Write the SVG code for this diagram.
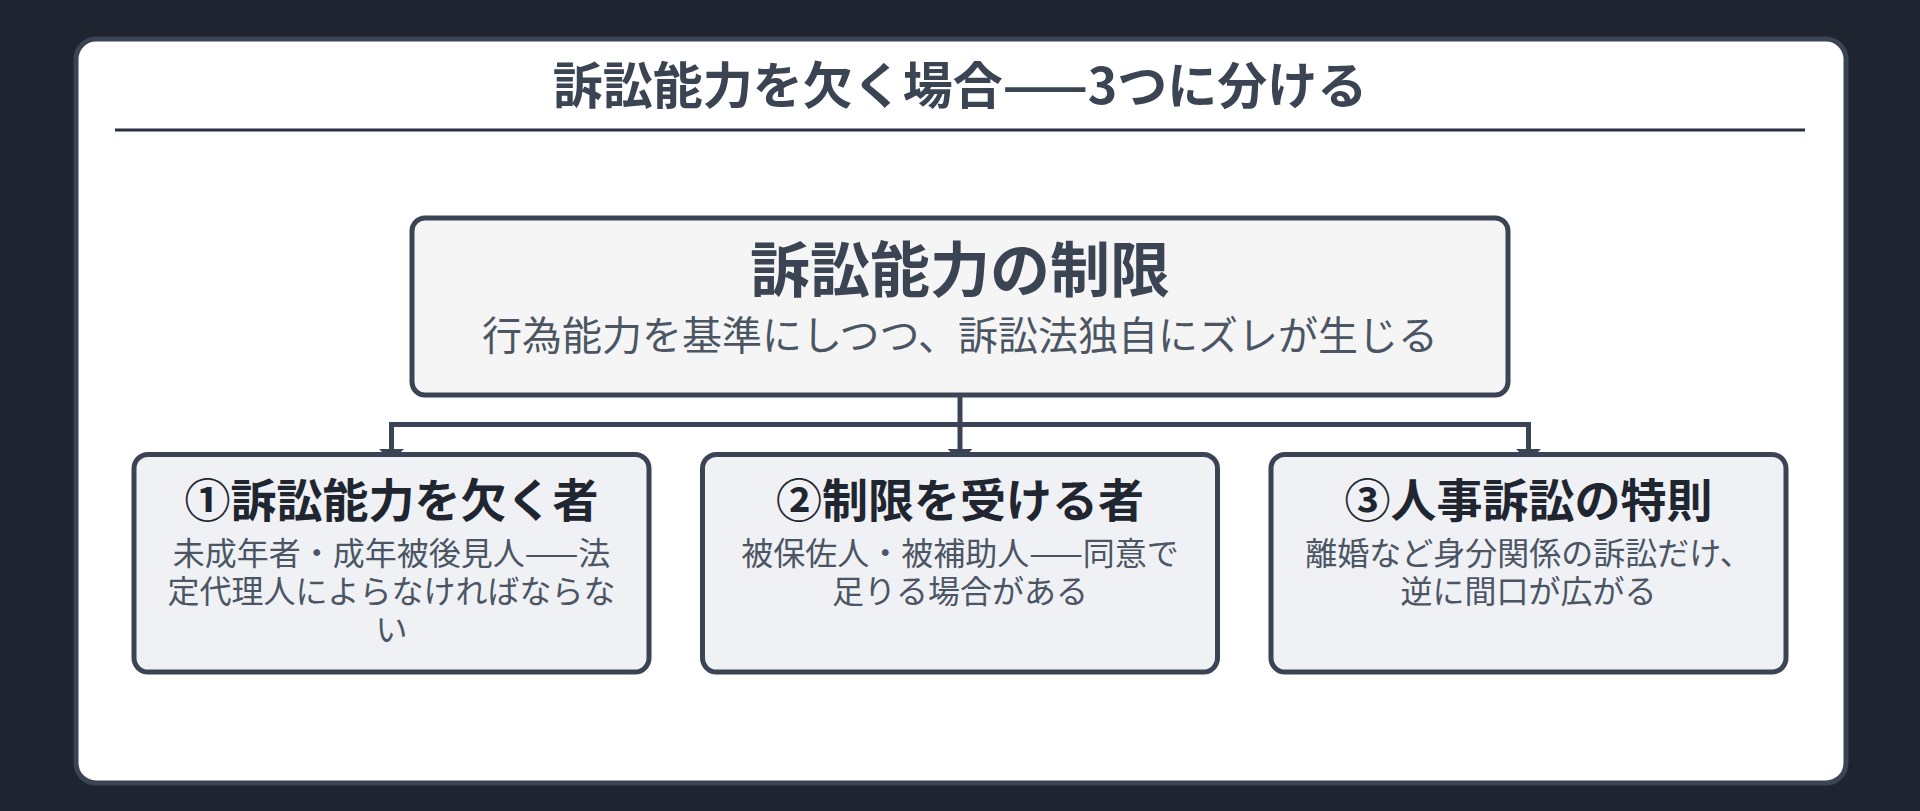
<svg xmlns="http://www.w3.org/2000/svg" width="1920" height="811" viewBox="0 0 1920 811">
  <defs>
    <style>
      .jp { font-family: "Noto Sans CJK JP", "Noto Sans", sans-serif; }
      .main-title { font-size: 50px; font-weight: 700; fill: #3b4453; }
      .top-title { font-size: 60px; font-weight: 700; fill: #3b4453; }
      .top-sub { font-size: 40px; font-weight: 400; fill: #4b5563; }
      .child-title { font-size: 46px; font-weight: 700; fill: #1f2630; }
      .child-desc { font-size: 32px; font-weight: 400; fill: #4b5563; }
      .node-top { fill: #f5f5f5; stroke: #3a4454; stroke-width: 5; }
      .node-child { fill: #eff1f5; stroke: #3a4454; stroke-width: 5; }
      .conn { fill: none; stroke: #3a4454; stroke-width: 5; }
    </style>
    <marker id="arrow" markerUnits="userSpaceOnUse" markerWidth="12" markerHeight="25" viewBox="0 0 12 25" refX="0" refY="12.5" orient="auto-start-reverse">
      <path d="M0,0 L12,12.5 L0,25 z" fill="#3a4454"/>
    </marker>
  </defs>

  <rect x="0" y="0" width="1920" height="811" fill="#1e2530"/>

  <g id="card">
    <rect x="76" y="39" width="1770" height="744" rx="20" ry="20" fill="#ffffff" stroke="#3a4454" stroke-width="5"/>
    <text class="jp main-title" x="960" y="104" text-anchor="middle">訴訟能力を欠く場合——3つに分ける</text>
    <line x1="115" y1="130" x2="1805" y2="130" stroke="#2a3140" stroke-width="3"/>
  </g>

  <g id="connectors">
    <path class="conn" d="M960 397 V449" marker-end="url(#arrow)"/>
    <path class="conn" d="M391.5 449 V424.5 H1528.5 V449" marker-start="url(#arrow)" marker-end="url(#arrow)"/>
  </g>

  <g id="node-root">
    <rect class="node-top" x="412" y="218" width="1096" height="177" rx="13" ry="13"/>
    <text class="jp top-title" x="960" y="292" text-anchor="middle">訴訟能力の制限</text>
    <text class="jp top-sub" x="960" y="350" text-anchor="middle">行為能力を基準にしつつ、訴訟法独自にズレが生じる</text>
  </g>

  <g id="node-1">
    <rect class="node-child" x="134" y="454.5" width="515" height="217.5" rx="14" ry="14"/>
    <text class="jp child-title" x="391.5" y="517" text-anchor="middle">①訴訟能力を欠く者</text>
    <text class="jp child-desc" x="391.5" y="565" text-anchor="middle">未成年者・成年被後見人——法</text>
    <text class="jp child-desc" x="391.5" y="603" text-anchor="middle">定代理人によらなければならな</text>
    <text class="jp child-desc" x="391.5" y="641" text-anchor="middle">い</text>
  </g>

  <g id="node-2">
    <rect class="node-child" x="702.5" y="454.5" width="515" height="217.5" rx="14" ry="14"/>
    <text class="jp child-title" x="960" y="517" text-anchor="middle">②制限を受ける者</text>
    <text class="jp child-desc" x="960" y="565" text-anchor="middle">被保佐人・被補助人——同意で</text>
    <text class="jp child-desc" x="960" y="603" text-anchor="middle">足りる場合がある</text>
  </g>

  <g id="node-3">
    <rect class="node-child" x="1271" y="454.5" width="515" height="217.5" rx="14" ry="14"/>
    <text class="jp child-title" x="1528.5" y="517" text-anchor="middle">③人事訴訟の特則</text>
    <text class="jp child-desc" x="1528.5" y="565" text-anchor="middle">離婚など身分関係の訴訟だけ、</text>
    <text class="jp child-desc" x="1528.5" y="603" text-anchor="middle">逆に間口が広がる</text>
  </g>
</svg>
